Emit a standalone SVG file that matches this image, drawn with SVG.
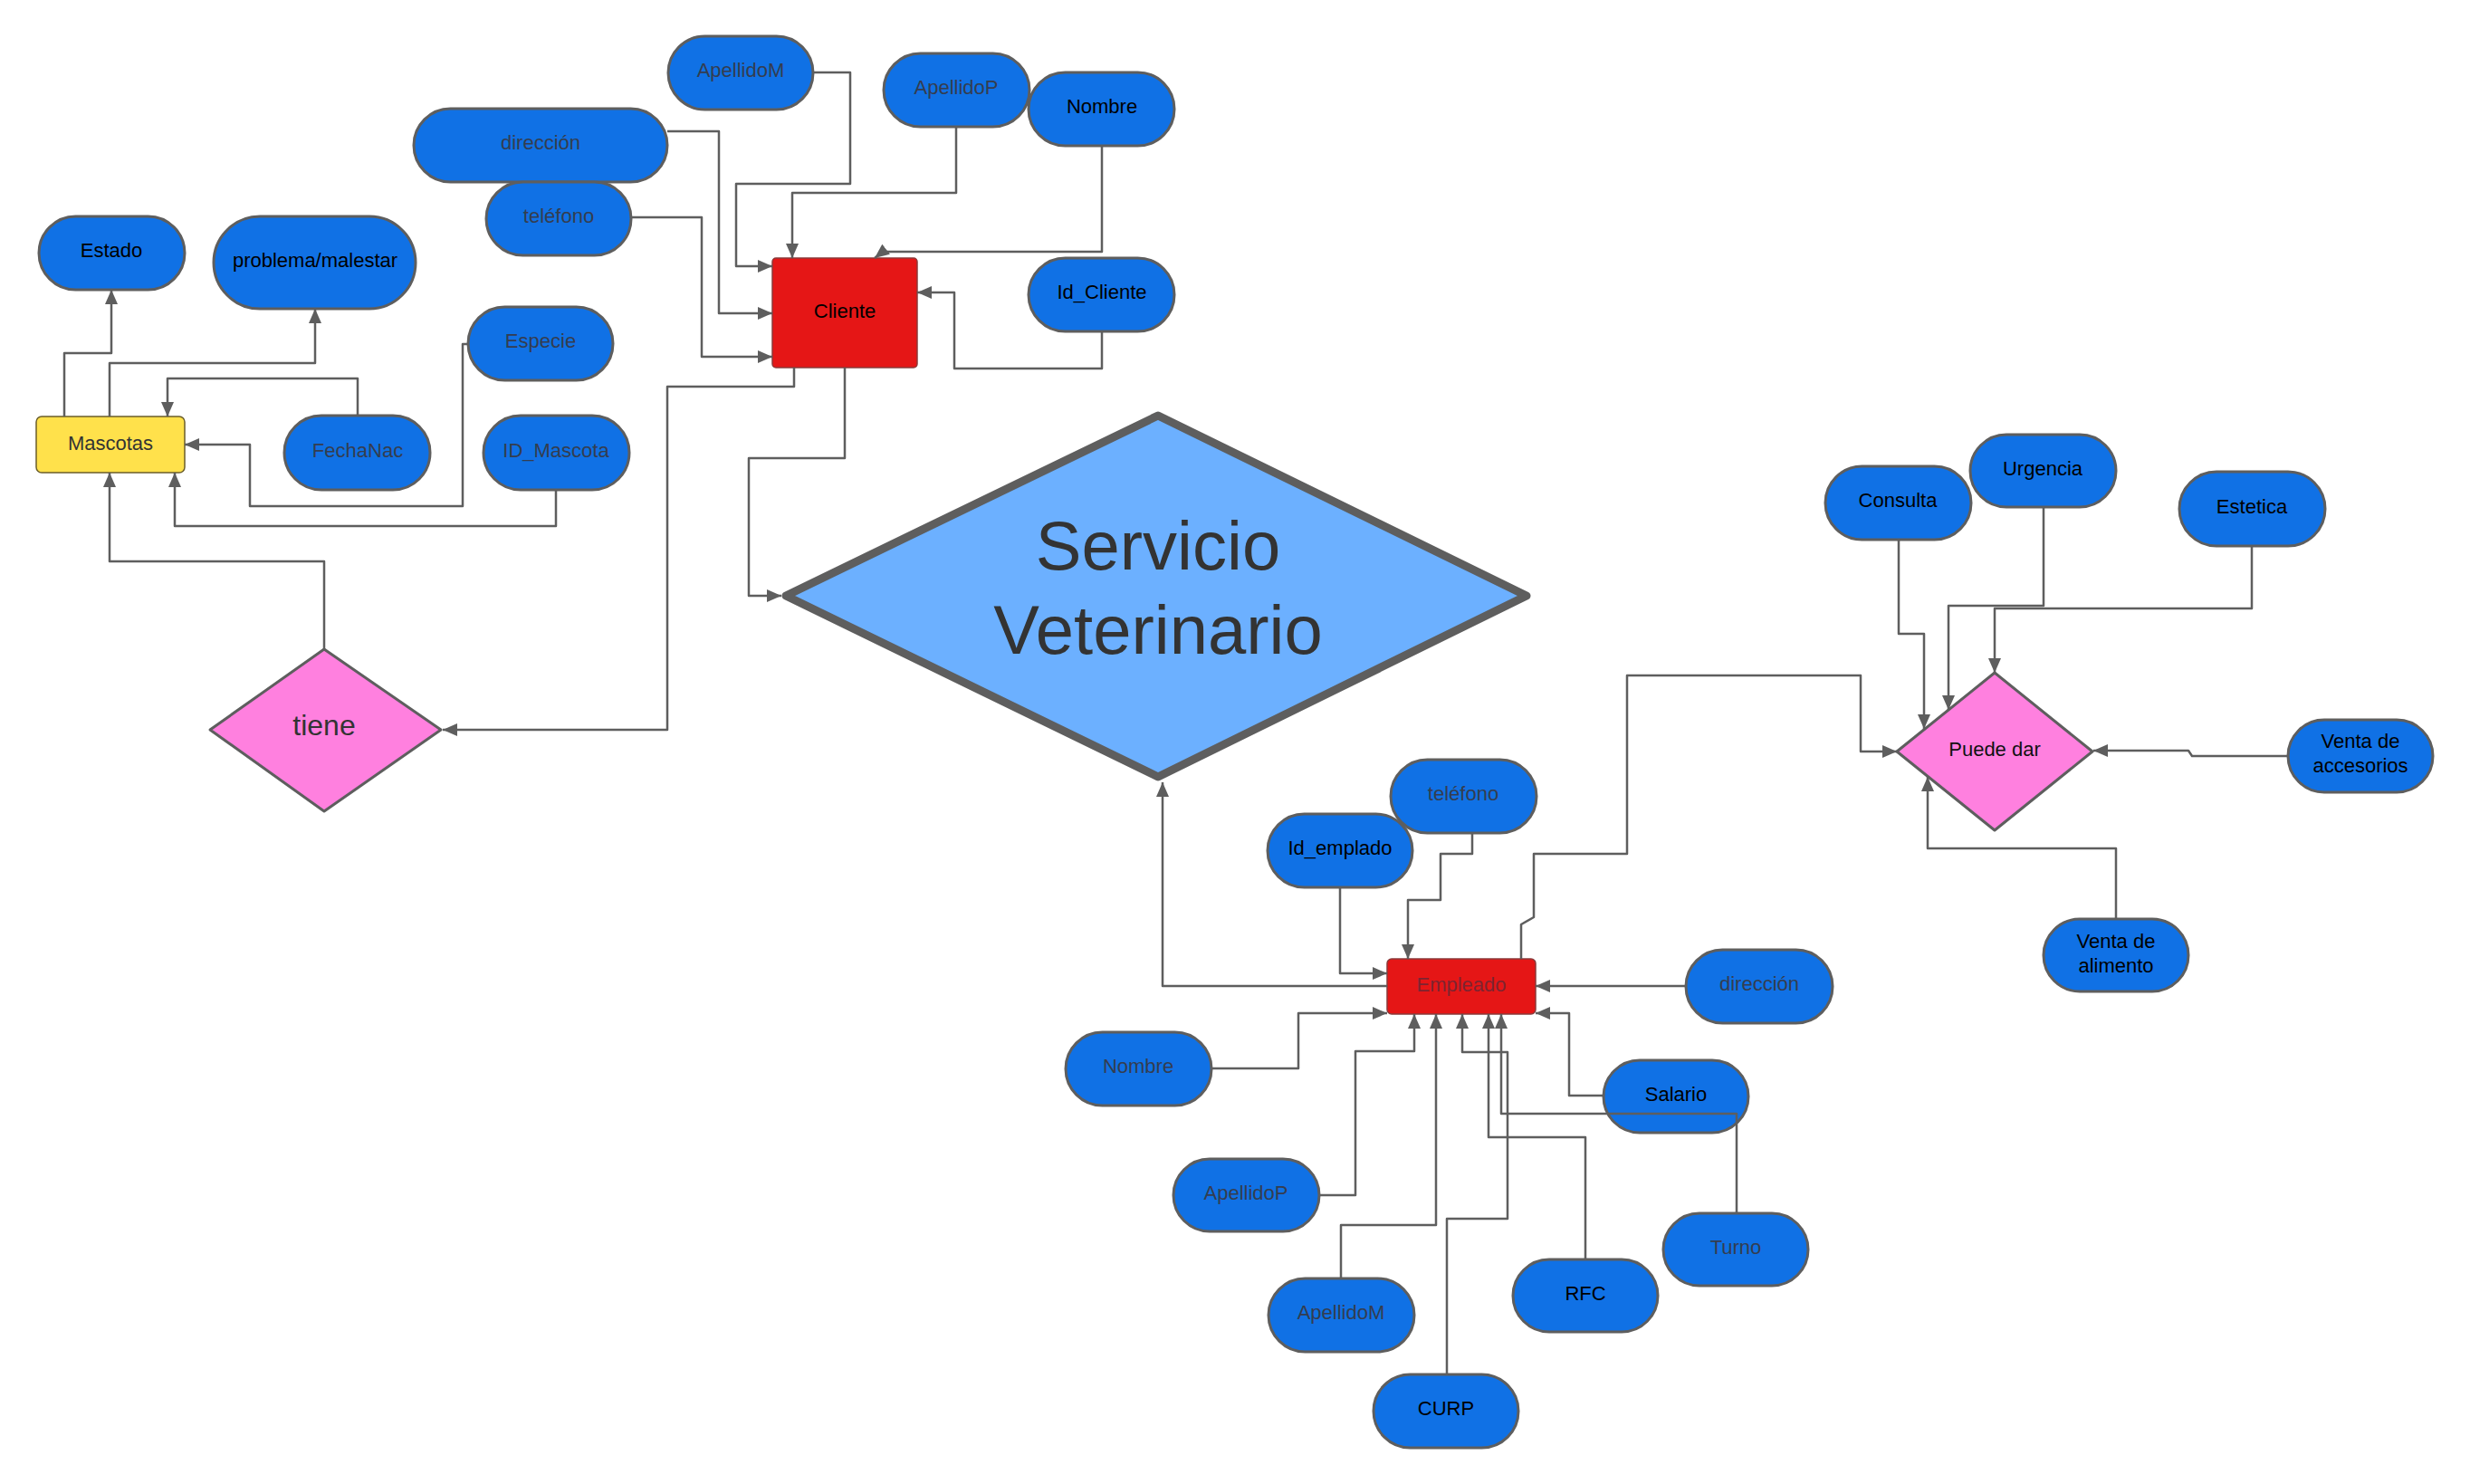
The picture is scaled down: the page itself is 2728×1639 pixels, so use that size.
<svg xmlns="http://www.w3.org/2000/svg" width="2728" height="1639" viewBox="0 0 2728 1639">
<style>
.pill{fill:#1071E5;stroke:#5E5E5E;stroke-width:3}
.t{font-family:"Liberation Sans",Arial,sans-serif;font-size:22px;text-anchor:middle}
.k{fill:#000}
.g{fill:#343d4f}
.ent{fill:#E51616;stroke:#8a3a3a;stroke-width:1.5}
.rel{fill:#FF80DF;stroke:#5E5E5E;stroke-width:3;stroke-linejoin:round}
.c{fill:none;stroke:#5E5E5E;stroke-width:2.5;stroke-linejoin:round;marker-end:url(#ah)}
</style>
<defs>
<marker id="ah" markerUnits="userSpaceOnUse" markerWidth="18" markerHeight="14" refX="16" refY="7" orient="auto">
<path d="M0,0 L16,7 L0,14 z" fill="#5E5E5E"/>
</marker>
</defs>
<rect width="2728" height="1639" fill="#fff"/>

<g id="servicio">
<polygon points="868,658 1279,459 1686,658 1279,858" fill="#6CB0FF" stroke="#5E5E5E" stroke-width="9" stroke-linejoin="round"/>
<text x="1279" y="629" font-family="Liberation Sans,Arial,sans-serif" font-size="76" text-anchor="middle" fill="#333">Servicio</text>
<text x="1279" y="722" font-family="Liberation Sans,Arial,sans-serif" font-size="76" text-anchor="middle" fill="#333">Veterinario</text>
</g>

<g id="cliente"><rect class="ent" x="853" y="285" width="160" height="121" rx="4"/><text class="t k" x="933" y="351">Cliente</text></g>
<g id="mascotas"><rect x="40" y="460" width="164" height="62" rx="6" fill="#FFE14B" stroke="#6b5e2a" stroke-width="1.5"/><text class="t" fill="#333" x="122" y="497">Mascotas</text></g>
<g id="empleado"><rect class="ent" x="1532" y="1059" width="164" height="61" rx="5"/><text class="t" fill="#7d2430" x="1614" y="1095">Empleado</text></g>

<g id="tiene"><polygon class="rel" points="232,806 358,717 487,806 358,896"/><text x="358" y="812" font-family="Liberation Sans,Arial,sans-serif" font-size="32" text-anchor="middle" fill="#333">tiene</text></g>
<g id="puede-dar"><polygon class="rel" points="2095,830 2203,743 2311,830 2203,917"/><text class="t" fill="#111" x="2203" y="835">Puede dar</text></g>

<g id="c-apellidoM"><rect class="pill" x="738" y="40" width="160" height="81" rx="40.5"/><text class="t g" x="818" y="85">ApellidoM</text></g>
<g id="c-direccion"><rect class="pill" x="457" y="120" width="280" height="81" rx="40.5"/><text class="t g" x="597" y="165">dirección</text></g>
<g id="c-telefono"><rect class="pill" x="537" y="201" width="160" height="81" rx="40.5"/><text class="t g" x="617" y="246">teléfono</text></g>
<g id="c-apellidoP"><rect class="pill" x="976" y="59" width="161" height="81" rx="40.5"/><text class="t g" x="1056" y="104">ApellidoP</text></g>
<g id="c-nombre"><rect class="pill" x="1136" y="80" width="161" height="81" rx="40.5"/><text class="t k" x="1217" y="125">Nombre</text></g>
<g id="c-id"><rect class="pill" x="1136" y="285" width="161" height="81" rx="40.5"/><text class="t k" x="1217" y="330">Id_Cliente</text></g>

<g id="m-estado"><rect class="pill" x="43" y="239" width="161" height="81" rx="40.5"/><text class="t k" x="123" y="284">Estado</text></g>
<g id="m-problema"><rect class="pill" x="236" y="239" width="223" height="102" rx="51"/><text class="t k" x="348" y="295">problema/malestar</text></g>
<g id="m-especie"><rect class="pill" x="517" y="339" width="160" height="81" rx="40.5"/><text class="t g" x="597" y="384">Especie</text></g>
<g id="m-fechanac"><rect class="pill" x="314" y="459" width="161" height="82" rx="41"/><text class="t g" x="395" y="505">FechaNac</text></g>
<g id="m-id"><rect class="pill" x="534" y="459" width="161" height="82" rx="41"/><text class="t g" x="614" y="505">ID_Mascota</text></g>

<g id="e-telefono"><rect class="pill" x="1536" y="839" width="161" height="81" rx="40.5"/><text class="t g" x="1616" y="884">teléfono</text></g>
<g id="e-id"><rect class="pill" x="1400" y="899" width="160" height="81" rx="40.5"/><text class="t k" x="1480" y="944">Id_emplado</text></g>
<g id="e-direccion"><rect class="pill" x="1862" y="1049" width="162" height="81" rx="40.5"/><text class="t g" x="1943" y="1094">dirección</text></g>
<g id="e-nombre"><rect class="pill" x="1177" y="1140" width="161" height="81" rx="40.5"/><text class="t g" x="1257" y="1185">Nombre</text></g>
<g id="e-salario"><rect class="pill" x="1771" y="1171" width="160" height="80" rx="40"/><text class="t k" x="1851" y="1216">Salario</text></g>
<g id="e-apellidoP"><rect class="pill" x="1296" y="1280" width="161" height="80" rx="40"/><text class="t g" x="1376" y="1325">ApellidoP</text></g>
<g id="e-turno"><rect class="pill" x="1837" y="1340" width="160" height="80" rx="40"/><text class="t g" x="1917" y="1385">Turno</text></g>
<g id="e-rfc"><rect class="pill" x="1671" y="1391" width="160" height="80" rx="40"/><text class="t k" x="1751" y="1436">RFC</text></g>
<g id="e-apellidoM"><rect class="pill" x="1401" y="1412" width="161" height="81" rx="40.5"/><text class="t g" x="1481" y="1457">ApellidoM</text></g>
<g id="e-curp"><rect class="pill" x="1517" y="1518" width="160" height="81" rx="40.5"/><text class="t k" x="1597" y="1563">CURP</text></g>

<g id="s-consulta"><rect class="pill" x="2016" y="515" width="161" height="81" rx="40.5"/><text class="t k" x="2096" y="560">Consulta</text></g>
<g id="s-urgencia"><rect class="pill" x="2176" y="480" width="161" height="80" rx="40"/><text class="t k" x="2256" y="525">Urgencia</text></g>
<g id="s-estetica"><rect class="pill" x="2407" y="521" width="161" height="82" rx="41"/><text class="t k" x="2487" y="567">Estetica</text></g>
<g id="s-accesorios"><rect class="pill" x="2527" y="795" width="160" height="80" rx="40"/><text class="t k" x="2607" y="826">Venta de</text><text class="t k" x="2607" y="853">accesorios</text></g>
<g id="s-alimento"><rect class="pill" x="2257" y="1015" width="160" height="80" rx="40"/><text class="t k" x="2337" y="1047">Venta de</text><text class="t k" x="2337" y="1074">alimento</text></g>

<g id="connectors">
<path class="c" d="M898,80 H939 V203 H813 V294 H853"/>
<path class="c" d="M737,145 H794 V346 H853"/>
<path class="c" d="M697,240 H775 V394 H853"/>
<path class="c" d="M1056,140 V213 H875 V285"/>
<path class="c" d="M1217,161 V278 H975 L966,285"/>
<path class="c" d="M1217,366 V407 H1054 V323 H1013"/>
<path class="c" d="M877,406 V427 H737 V806 H489"/>
<path class="c" d="M933,406 V506 H827 V658 H863"/>

<path class="c" d="M71,460 V390 H123 V320"/>
<path class="c" d="M121,460 V401 H348 V341"/>
<path class="c" d="M395,459 V418 H185 V460"/>
<path class="c" d="M517,380 H511 V559 H276 V491 H204"/>
<path class="c" d="M614,541 V581 H193 V522"/>
<path class="c" d="M358,717 V620 H121 V522"/>

<path class="c" d="M1532,1089 H1284 V864"/>
<path class="c" d="M1480,980 V1075 H1532"/>
<path class="c" d="M1626,920 V943 H1591 V994 H1555 V1059"/>
<path class="c" d="M1680,1059 V1021 L1694,1013 V943 H1797 V746 H2055 V830 H2095"/>
<path class="c" d="M1862,1089 H1696"/>
<path class="c" d="M1338,1180 H1434 V1119 H1532"/>
<path class="c" d="M1457,1320 H1497 V1161 H1562 V1120"/>
<path class="c" d="M1481,1412 V1353 H1586 V1120"/>
<path class="c" d="M1598,1518 V1346 H1665 V1162 H1615 V1120"/>
<path class="c" d="M1751,1391 V1256 H1644 V1120"/>
<path class="c" d="M1918,1340 V1230 H1658 V1120"/>
<path class="c" d="M1771,1210 H1733 V1119 H1696"/>

<path class="c" d="M2097,596 V700 H2125 V805"/>
<path class="c" d="M2257,560 V669 H2152 V784"/>
<path class="c" d="M2487,603 V672 H2203 V743"/>
<path class="c" d="M2527,835 H2421 L2417,829 H2312"/>
<path class="c" d="M2337,1015 V937 H2129 V858"/>
</g>
</svg>
